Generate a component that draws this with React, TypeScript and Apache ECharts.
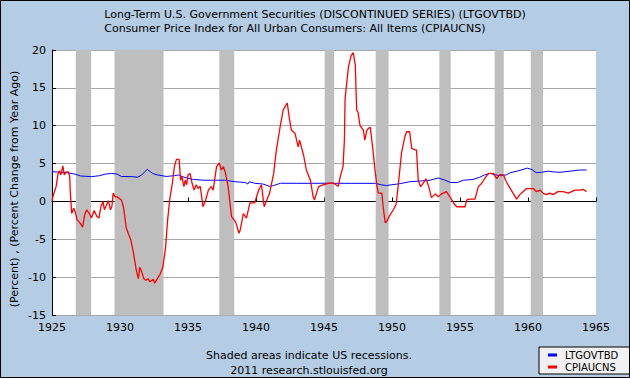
import React, { useEffect, useRef } from "react";
import * as echarts from "echarts";

const titleLines = [
  "Long-Term U.S. Government Securities (DISCONTINUED SERIES) (LTGOVTBD)",
  "Consumer Price Index for All Urban Consumers: All Items (CPIAUCNS)",
];
const yAxisTitle = "(Percent) , (Percent Change from Year Ago)";
const seriesNames = ["LTGOVTBD", "CPIAUCNS"];
const footerLines = ["Shaded areas indicate US recessions.", "2011 research.stlouisfed.org"];

const recessionStarts = [1926.75, 1929.6, 1937.3, 1945.05, 1948.8, 1953.48, 1957.55, 1960.2];
const recessionEnds = [1927.88, 1933.2, 1938.4, 1945.75, 1949.75, 1954.32, 1958.22, 1961.1];

const ltgovDates = [
  1925.0, 1926.1, 1926.7, 1927.1, 1927.9, 1928.5, 1928.9, 1929.4, 1929.8, 1930.1, 1930.9, 1931.3,
  1931.6, 1932.0, 1932.4, 1932.75, 1933.4, 1934.0, 1934.3, 1934.7, 1935.4, 1936.2, 1937.2, 1937.7,
  1938.5, 1939.2, 1939.4, 1939.5, 1939.9, 1940.5, 1941.0, 1941.3, 1941.8, 1943.0, 1945.0, 1947.0,
  1948.8, 1949.2, 1949.6, 1950.6, 1951.3, 1952.1, 1952.8, 1953.4, 1953.9, 1954.3, 1954.8, 1955.25,
  1955.95, 1956.45, 1956.8, 1957.2, 1957.6, 1958.0, 1958.4, 1958.7, 1959.2, 1959.95, 1960.3, 1960.6,
  1961.0, 1961.5, 1961.85, 1962.35, 1963.1, 1963.8, 1964.3,
];
const ltgovValues = [
  3.93, 3.8, 3.6, 3.36, 3.27, 3.4, 3.6, 3.7, 3.6, 3.3, 3.27, 3.2,
  3.5, 4.24, 3.7, 3.5, 3.3, 3.4, 3.5, 3.2, 2.9, 2.8, 2.8, 2.8,
  2.6, 2.5, 2.3, 2.6, 2.4, 2.3, 2.0, 2.1, 2.4, 2.39, 2.4, 2.39,
  2.39, 2.2, 2.1, 2.35, 2.6, 2.7, 2.8, 3.1, 2.8, 2.5, 2.5, 2.8,
  2.9, 3.2, 3.5, 3.7, 3.5, 3.4, 3.5, 3.8, 4.0, 4.4, 4.2, 3.8,
  3.85, 4.0, 3.9, 3.85, 4.0, 4.15, 4.15,
];

const cpiDates = [
  1925.0, 1925.1, 1925.3, 1925.45, 1925.55, 1925.65, 1925.8, 1925.9, 1926.05, 1926.2, 1926.3, 1926.35,
  1926.45, 1926.6, 1926.7, 1926.85, 1927.0, 1927.15, 1927.25, 1927.4, 1927.55, 1927.75, 1927.9, 1928.1,
  1928.3, 1928.45, 1928.6, 1928.75, 1928.85, 1929.05, 1929.15, 1929.3, 1929.4, 1929.5, 1929.65, 1929.8,
  1929.95, 1930.1, 1930.25, 1930.45, 1930.6, 1930.8, 1931.0, 1931.2, 1931.35, 1931.45, 1931.6, 1931.75,
  1931.9, 1932.05, 1932.2, 1932.45, 1932.55, 1932.75, 1932.95, 1933.15, 1933.35, 1933.5, 1933.65, 1933.85,
  1934.0, 1934.15, 1934.35, 1934.45, 1934.55, 1934.7, 1934.8, 1934.9, 1935.0, 1935.15, 1935.3, 1935.45,
  1935.6, 1935.75, 1935.9, 1936.1, 1936.3, 1936.5, 1936.7, 1936.85, 1937.1, 1937.3, 1937.45, 1937.6,
  1937.75, 1937.95, 1938.2, 1938.5, 1938.75, 1938.85, 1939.07, 1939.3, 1939.55, 1939.9, 1940.2, 1940.4,
  1940.6, 1941.0, 1941.3, 1941.5, 1941.76, 1942.0, 1942.2, 1942.3, 1942.45, 1942.6, 1942.87, 1943.1,
  1943.2, 1943.5, 1943.7, 1944.0, 1944.2, 1944.3, 1944.6, 1944.95, 1945.3, 1945.7, 1946.05, 1946.2,
  1946.4, 1946.5, 1946.55, 1946.8, 1947.0, 1947.15, 1947.3, 1947.4, 1947.5, 1947.65, 1947.9, 1948.0,
  1948.15, 1948.3, 1948.4, 1948.6, 1948.75, 1948.9, 1949.0, 1949.25, 1949.35, 1949.5, 1949.6, 1949.85,
  1950.1, 1950.3, 1950.45, 1950.7, 1950.95, 1951.08, 1951.3, 1951.45, 1951.7, 1951.8, 1951.93, 1952.1,
  1952.3, 1952.5, 1952.7, 1952.9, 1953.2, 1953.4, 1953.65, 1954.0, 1954.26, 1954.56, 1954.76, 1955.0,
  1955.37, 1955.5, 1955.7, 1956.1, 1956.35, 1956.6, 1956.8, 1957.1, 1957.45, 1957.7, 1957.9, 1958.2,
  1958.4, 1958.7, 1958.9, 1959.16, 1959.4, 1959.65, 1959.9, 1960.15, 1960.4, 1960.6, 1960.9, 1961.1,
  1961.35, 1961.6, 1961.85, 1962.2, 1962.6, 1962.96, 1963.45, 1963.8, 1964.05, 1964.3,
];
const cpiValues = [
  0.1, 0.85, 1.95, 3.7, 4.05, 3.5, 4.7, 3.5, 3.9, 3.9, 3.3, 1.1,
  -1.6, -0.9, -1.35, -2.45, -2.7, -3.1, -3.4, -1.8, -1.1, -1.6, -2.2, -1.2,
  -2.0, -2.2, -0.7, 0.0, -1.1, -0.3, 0.1, -1.1, -0.7, 1.1, 0.6, 0.6,
  0.4, 0.2, -0.7, -3.4, -4.2, -5.1, -6.9, -9.1, -10.2, -8.7, -9.3, -10.2,
  -10.4, -10.2, -10.6, -10.3, -10.8, -10.2, -9.6, -8.7, -6.1, -2.5, 0.2, 2.4,
  4.6, 5.55, 5.55, 2.8, 3.3, 1.95, 2.8, 2.2, 3.5, 3.7, 2.4, 1.5,
  2.2, 1.7, 2.0, -0.7, 0.2, 1.5, 1.95, 1.5, 4.6, 5.1, 4.15, 4.6,
  3.8, 1.95, -2.0, -2.7, -4.2, -3.7, -1.6, -2.2, -0.2, -0.2, 1.5, 2.2,
  -0.7, 1.1, 3.7, 6.8, 9.7, 12.1, 12.7, 13.0, 11.0, 9.4, 9.0, 7.2,
  8.1, 6.1, 4.15, 2.8, 0.6, 0.2, 1.95, 2.2, 2.4, 2.4, 2.0, 3.3,
  4.6, 8.1, 13.6, 17.8, 19.3, 19.65, 18.0, 12.1, 11.8, 10.0, 9.4, 8.1,
  9.4, 9.7, 9.8, 6.8, 4.15, 1.95, 1.1, 1.1, -0.7, -2.8, -2.7, -1.8,
  -1.1, -0.4, 1.95, 6.4, 8.6, 9.2, 9.2, 7.0, 6.8, 6.8, 2.8, 1.95,
  2.4, 3.0, 1.95, 0.5, 1.0, 0.6, 1.0, 1.3, 0.6, -0.3, -0.7, -0.7,
  -0.7, 0.2, 0.3, 0.3, 1.95, 2.4, 3.0, 3.7, 3.7, 3.0, 3.5, 3.5,
  2.6, 1.7, 1.1, 0.3, 0.9, 1.3, 1.7, 1.7, 1.7, 1.3, 1.5, 1.1,
  0.9, 1.1, 0.9, 1.3, 1.3, 1.1, 1.5, 1.5, 1.6, 1.3,
];

const FONT = "DejaVu Sans";

export default function App() {
  const ref = useRef<HTMLDivElement>(null);
  useEffect(() => {
    if (!ref.current) return;
    const chart = echarts.init(ref.current, undefined, { renderer: "svg" });
    const ltgov = ltgovDates.map((d, i) => [d, ltgovValues[i]]);
    const cpi = cpiDates.map((d, i) => [d, cpiValues[i]]);
    const areas = recessionStarts.map((s, i) => [{ xAxis: s }, { xAxis: recessionEnds[i] }]);
    chart.setOption({
      animation: false,
      backgroundColor: "#B4CCE4",
      textStyle: { fontFamily: FONT },
      grid: {
        left: 52,
        top: 50,
        width: 544,
        height: 265,
        show: true,
        backgroundColor: "#ffffff",
        borderWidth: 0,
      },
      xAxis: {
        type: "value",
        min: 1925,
        max: 1965,
        interval: 5,
        axisLine: { show: true, lineStyle: { color: "#000", width: 1 } },
        axisTick: { show: true, inside: true, length: 4, lineStyle: { color: "#000" } },
        axisLabel: {
          color: "#000",
          fontSize: 11,
          fontFamily: FONT,
          margin: 7,
          formatter: (v: number) => String(v),
        },
        splitLine: { show: false },
      },
      yAxis: {
        type: "value",
        min: -15,
        max: 20,
        interval: 5,
        axisLine: { show: true, lineStyle: { color: "#000", width: 1 } },
        axisTick: { show: true, inside: true, length: 4, lineStyle: { color: "#000" } },
        axisLabel: { color: "#000", fontSize: 11, fontFamily: FONT, margin: 6 },
        splitLine: { show: true, lineStyle: { color: "#a8a8a8", width: 1 } },
      },
      legend: {
        data: seriesNames,
        orient: "vertical",
        left: 539,
        top: 347,
        width: 84,
        backgroundColor: "#f0f0f0",
        borderColor: "#000",
        borderWidth: 1,
        borderRadius: 0,
        padding: [3, 12, 2, 9],
        itemGap: 2,
        itemWidth: 9,
        itemHeight: 3,
        icon: "rect",
        textStyle: { fontSize: 10, color: "#000", fontFamily: FONT, padding: [0, 0, 0, 3] },
      },
      graphic: [
        {
          type: "text",
          left: "center",
          top: 7,
          style: {
            text: titleLines.join("\n"),
            font: `11px "${FONT}"`,
            fill: "#000",
            align: "center",
            lineHeight: 14,
          },
        },
        {
          type: "text",
          x: 14,
          y: 189,
          rotation: Math.PI / 2,
          style: {
            text: yAxisTitle,
            font: `11px "${FONT}"`,
            fill: "#000",
            align: "center",
            verticalAlign: "middle",
          },
        },
        {
          type: "text",
          x: 309,
          y: 348,
          style: {
            text: footerLines.join("\n"),
            font: `11px "${FONT}"`,
            fill: "#000",
            align: "center",
            lineHeight: 15,
          },
        },
        {
          type: "rect",
          shape: { x: 0.5, y: 0.5, width: 629, height: 377 },
          style: { fill: "none", stroke: "#000", lineWidth: 1 },
          z: 100,
        },
      ],
      series: [
        {
          name: "recessions",
          type: "line",
          data: [],
          z: 1,
          markArea: {
            silent: true,
            itemStyle: { color: "#bebebe", opacity: 1 },
            data: areas,
          },
        },
        {
          name: seriesNames[0],
          type: "line",
          data: ltgov,
          showSymbol: false,
          symbol: "none",
          color: "#0000ff",
          lineStyle: { color: "#0000ff", width: 1 },
          z: 3,
        },
        {
          name: seriesNames[1],
          type: "line",
          data: cpi,
          showSymbol: false,
          symbol: "none",
          color: "#ff0000",
          lineStyle: { color: "#ff0000", width: 1.3 },
          z: 4,
        },
      ],
    });
    return () => chart.dispose();
  }, []);
  return (
    <div
      ref={ref}
      style={{ position: "fixed", left: 0, top: 0, width: 630, height: 378 }}
    />
  );
}
